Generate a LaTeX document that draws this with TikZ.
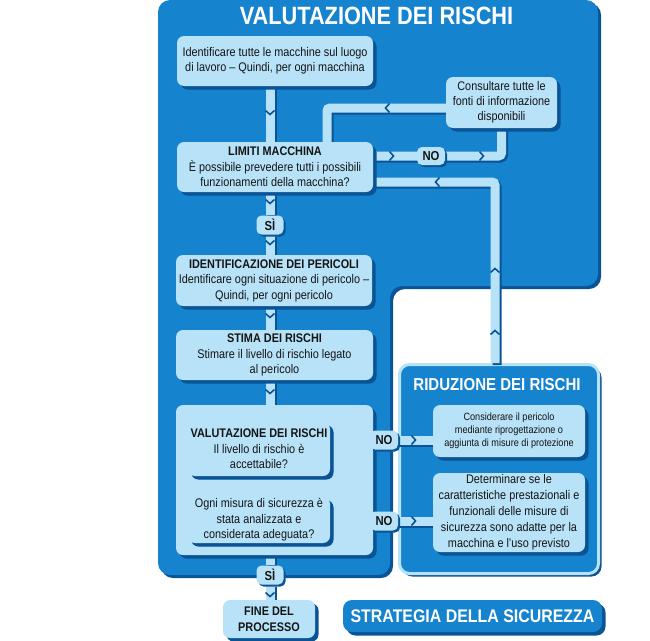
\documentclass[tikz,border=0pt]{standalone}
\usepackage{fontspec}
\setmainfont{Liberation Sans}[FakeStretch=0.87]
\usetikzlibrary{shadows}
\definecolor{mainblue}{HTML}{1683CF}
\definecolor{darkblue}{HTML}{0A5496}
\definecolor{lightbox}{HTML}{B7E2F7}
\definecolor{inktext}{HTML}{151515}
\pgfdeclarelayer{panel}
\pgfdeclarelayer{bands}
\pgfsetlayers{panel,bands,main}
\tikzset{
  bandline/.style={line width=9pt, lightbox, rounded corners=3pt},
  bandshadow/.style={line width=9pt, darkblue, rounded corners=3pt, transform canvas={xshift=2pt,yshift=-2pt}},
  chevline/.style={darkblue, line width=1.6pt},
  box/.style={fill=lightbox, rounded corners=7pt, inner sep=0pt, align=center, text=inktext,
    font=\fontsize{12.5}{15.5}\selectfont,
    general shadow={fill=darkblue, shadow xshift=3.5pt, shadow yshift=-3.5pt}},
  tag/.style={fill=lightbox, rounded corners=5pt, inner sep=0pt, text=inktext,
    font=\bfseries\fontsize{13}{15}\selectfont,
    general shadow={fill=darkblue, shadow xshift=2pt, shadow yshift=-2pt},
    minimum width=28pt, minimum height=19pt},
  titletext/.style={text=white, font=\bfseries\fontsize{25}{28}\selectfont, inner sep=0pt},
}
\newcommand\band[1]{\draw[bandshadow] #1; \draw[bandline] #1;}
\newcommand\chev[3]{\begin{scope}[shift={(#1,#2)}, rotate=#3]\draw[chevline] (-2.5,4.5) -- (1.5,0) -- (-2.5,-4.5);\end{scope}}
\begin{document}
\begin{tikzpicture}[x=1pt,y=-1pt]
\useasboundingbox (0,0) rectangle (650,640);
% panels
\begin{pgfonlayer}{panel}
  \fill[darkblue, rounded corners=12pt, xshift=3pt, yshift=-3pt] (158,0) -- (598,0) -- (598,286) -- (390,286) -- (390,575) -- (158,575) -- cycle;
  \fill[mainblue, rounded corners=12pt] (158,0) -- (598,0) -- (598,286) -- (390,286) -- (390,575) -- (158,575) -- cycle;
  \node[draw=lightbox, line width=3pt, fill=mainblue, rounded corners=10pt, inner sep=0pt,
        minimum width=199pt, minimum height=209pt,
        general shadow={fill=darkblue, shadow xshift=3pt, shadow yshift=-3pt}] (riduz) at (499,469) {};
\end{pgfonlayer}
\node[titletext] (maintitle) at (376.5,16) {VALUTAZIONE DEI RISCHI};
\node[titletext, font=\bfseries\fontsize{17.3}{20}\selectfont] (riduztitle) at (497,385) {RIDUZIONE DEI RISCHI};
% boxes
\node[box, minimum width=196pt, minimum height=50pt] (b1) at (275,61) {Identificare tutte le macchine sul luogo\\di lavoro -- Quindi, per ogni macchina};
\node[box, minimum width=196pt, minimum height=50pt] (lim) at (275,167) {\textbf{LIMITI MACCHINA}\\È possibile prevedere tutti i possibili\\funzionamenti della macchina?};
\node[box, minimum width=111pt, minimum height=51pt, font=\fontsize{12.5}{15}\selectfont] (cons) at (501.5,102.5) {Consultare tutte le\\fonti di informazione\\disponibili};
\node[box, minimum width=196pt, minimum height=51pt] (ident) at (274,280.5) {\textbf{IDENTIFICAZIONE DEI PERICOLI}\\Identificare ogni situazione di pericolo --\\Quindi, per ogni pericolo};
\node[box, minimum width=197pt, minimum height=50pt] (stima) at (274.5,355) {\textbf{STIMA DEI RISCHI}\\Stimare il livello di rischio legato\\al pericolo};
\node[box, minimum width=197pt, minimum height=150pt] (val) at (274.5,480) {};
\node[box, minimum width=142pt, minimum height=54pt, general shadow={fill=darkblue, shadow xshift=3pt, shadow yshift=-3pt}] (in1) at (259,449) {\textbf{VALUTAZIONE DEI RISCHI}\\Il livello di rischio è\\accettabile?};
\node[box, minimum width=142pt, minimum height=46pt, general shadow={fill=darkblue, shadow xshift=3pt, shadow yshift=-3pt}] (in2) at (259,520) {Ogni misura di sicurezza è\\stata analizzata e\\considerata adeguata?};
\node[box, minimum width=152pt, minimum height=52pt, font=\fontsize{10.5}{12.8}\selectfont] (consid) at (509,431) {Considerare il pericolo\\mediante riprogettazione o\\aggiunta di misure di protezione};
\node[box, minimum width=152pt, minimum height=79pt, font=\fontsize{12.5}{16}\selectfont] (determ) at (509,512.5) {Determinare se le\\caratteristiche prestazionali e\\funzionali delle misure di\\sicurezza sono adatte per la\\macchina e l'uso previsto};
\node[box, minimum width=92pt, minimum height=38pt, font=\bfseries\fontsize{12.5}{16.5}\selectfont] (fine) at (269,619) {FINE DEL\\PROCESSO};
\node[fill=mainblue, rounded corners=9pt, inner sep=0pt, minimum width=259pt, minimum height=32pt,
      general shadow={fill=darkblue, shadow xshift=3.5pt, shadow yshift=-3.5pt},
      text=white, font=\bfseries\fontsize{18.3}{20}\selectfont] (strat) at (472.5,616) {STRATEGIA DELLA SICUREZZA};
% labels
\node[tag, minimum height=18pt] (no1) at (431,156) {NO};
\node[tag] (no2) at (384,440) {NO};
\node[tag] (no3) at (384,521) {NO};
\node[tag, minimum width=27pt] (si1) at (270,225) {SÌ};
\node[tag, minimum width=27pt] (si2) at (270,575) {SÌ};
% connectors
\coordinate (colx) at (270,0);
\coordinate (k3) at (327,108);
\coordinate (k9) at (495,182);
\begin{pgfonlayer}{bands}
  \band{(b1.south -| colx) -- (lim.north -| colx)}
  \band{(lim.east |- no1) -- (no1) -- (no1 -| cons.south) -- (cons.south)}
  \band{(cons.west |- k3) -- (k3) -- (k3 |- lim.north)}
  \band{(lim.south -| colx) -- (si1) -- (ident.north -| colx)}
  \band{(ident.south -| colx) -- (stima.north -| colx)}
  \band{(stima.south -| colx) -- (val.north -| colx)}
  \band{(in1.east |- no2) -- (no2) -- (no2 -| consid.west)}
  \band{(in2.east |- no3) -- (no3) -- (no3 -| determ.west)}
  \band{(riduz.north -| k9) -- (k9) -- (k9 -| lim.east)}
  \band{(val.south -| colx) -- (si2) -- (fine.north -| colx)}
  \chev{270}{113}{-90}
  \chev{392}{156}{0}
  \chev{482}{156}{0}
  \chev{387}{108}{180}
  \chev{270}{202}{-90}
  \chev{270}{243}{-90}
  \chev{270}{316}{-90}
  \chev{270}{392}{-90}
  \chev{350}{440}{0}
  \chev{414}{440}{0}
  \chev{351}{521}{0}
  \chev{414}{521}{0}
  \chev{495}{270}{90}
  \chev{495}{332}{90}
  \chev{437}{182}{180}
  \chev{270}{595}{-90}
\end{pgfonlayer}
\end{tikzpicture}
\end{document}
